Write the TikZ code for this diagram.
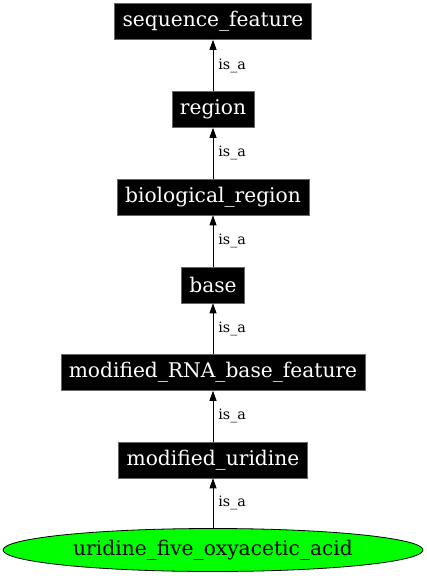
\documentclass[tikz,border=0pt]{standalone}
\usepackage{fontspec}
\setmainfont{DejaVu Serif}
\usetikzlibrary{arrows.meta,shapes.geometric}
\definecolor{gvgreen}{RGB}{0,255,0}
\tikzset{
  term/.style={fill=black,text=white,draw=black!60,line width=0.6pt,inner xsep=8pt,minimum height=36pt,font=\fontsize{20.2}{22}\selectfont},
  leaf/.style={ellipse,fill=gvgreen,draw=black,line width=0.8pt,minimum width=420pt,minimum height=43pt,inner sep=0pt,font=\fontsize{20.2}{22}\selectfont},
  isa/.style={draw=black,line width=0.8pt,-{Triangle[width=7pt,length=10pt]}},
  lab/.style={font=\fontsize{14.3}{15}\selectfont,anchor=west,inner sep=0pt}
}
\begin{document}
\begin{tikzpicture}[x=1pt,y=1pt]
\useasboundingbox (0,0) rectangle (427,-576);
\node[term] (sf) at (213,-21.5) {sequence\_feature};
\node[term] (rg) at (213,-109.5) {region};
\node[term] (br) at (213,-197) {biological\_region};
\node[term] (bs) at (213,-285) {base};
\node[term] (mr) at (213,-372.5) {modified\_RNA\_base\_feature};
\node[term] (mu) at (213,-460) {modified\_uridine};
\node[leaf] (uf) at (213,-550) {uridine\_five\_oxyacetic\_acid};
\draw[isa] (rg.north) -- (sf.south) node[lab,midway,xshift=5pt] (l1) {is\_a};
\draw[isa] (br.north) -- (rg.south) node[lab,midway,xshift=5pt] (l2) {is\_a};
\draw[isa] (bs.north) -- (br.south) node[lab,midway,xshift=5pt] (l3) {is\_a};
\draw[isa] (mr.north) -- (bs.south) node[lab,midway,xshift=5pt] (l4) {is\_a};
\draw[isa] (mu.north) -- (mr.south) node[lab,midway,xshift=5pt] (l5) {is\_a};
\draw[isa] (uf.north) -- (mu.south) node[lab,midway,xshift=5pt] (l6) {is\_a};
\end{tikzpicture}
\end{document}
